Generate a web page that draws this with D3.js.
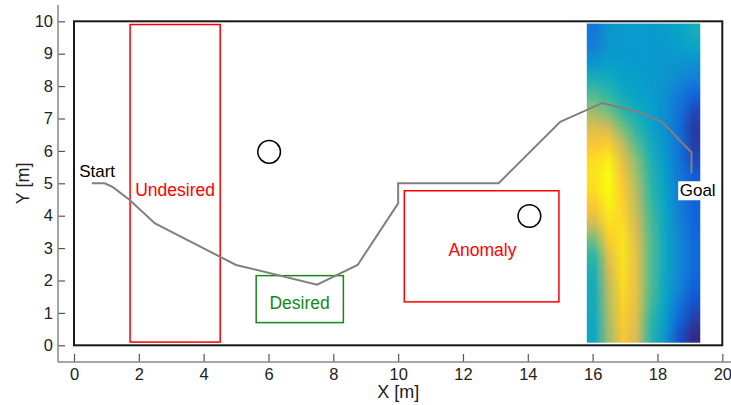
<!DOCTYPE html>
<html>
<head>
<meta charset="utf-8">
<script src="https://cdn.jsdelivr.net/npm/d3@7"></script>
<style>
  body { margin: 0; background: #fff; }
  svg { display: block; font-family: "Liberation Sans", Arial, Helvetica, sans-serif; }
</style>
</head>
<body>
<div id="chart"></div>
<script>
// ---- data (metres) ----
const xTicks = [0, 2, 4, 6, 8, 10, 12, 14, 16, 18, 20]
const yTicks = [0, 1, 2, 3, 4, 5, 6, 7, 8, 9, 10]

// robot trajectory
const pathX = [0.55, 0.95, 1.2, 1.7, 2.5, 5.0, 7.5, 8.75, 10.0, 10.0, 13.1, 15.0, 16.3, 17.5, 18.15, 19.05, 19.05]
const pathY = [5.0, 5.0, 4.88, 4.5, 3.76, 2.48, 1.87, 2.48, 4.38, 5.0, 5.0, 6.9, 7.48, 7.18, 6.88, 5.95, 5.3]

// zones
const zoneNames = ['Undesired', 'Desired', 'Anomaly']
const zoneX0 = [1.73, 5.62, 10.19]
const zoneX1 = [4.51, 8.31, 14.96]
const zoneY0 = [0.1, 0.7, 1.34]
const zoneY1 = [9.9, 2.15, 4.77]
const zoneLabelX = [3.12, 6.96, 12.6]
const zoneLabelY = [4.8, 1.3, 2.95]
const zoneColors = ['#ff0000', '#138a13', '#ff0000']

// obstacles
const obstX = [6.02, 14.05]
const obstY = [5.97, 3.99]
const obstR = 0.35

// cost map (rows from top to bottom, values 0..1 on parula)
const heatX0 = 15.82, heatX1 = 19.32, heatY0 = 0.08, heatY1 = 9.93
const heat = [
  [0.22, 0.32, 0.34, 0.34, 0.34, 0.35, 0.38, 0.43],
  [0.25, 0.33, 0.34, 0.34, 0.34, 0.34, 0.36, 0.38],
  [0.33, 0.36, 0.35, 0.34, 0.34, 0.33, 0.32, 0.30],
  [0.45, 0.42, 0.38, 0.36, 0.34, 0.32, 0.28, 0.24],
  [0.55, 0.50, 0.42, 0.37, 0.35, 0.30, 0.22, 0.15],
  [0.66, 0.60, 0.50, 0.42, 0.36, 0.30, 0.20, 0.08],
  [0.78, 0.75, 0.60, 0.48, 0.38, 0.30, 0.18, 0.04],
  [0.86, 0.88, 0.72, 0.55, 0.42, 0.32, 0.20, 0.05],
  [0.92, 0.97, 0.80, 0.62, 0.45, 0.34, 0.20, 0.08],
  [0.94, 1.00, 0.85, 0.66, 0.48, 0.35, 0.22, 0.12],
  [0.92, 1.00, 0.88, 0.70, 0.50, 0.37, 0.23, 0.14],
  [0.86, 0.97, 0.90, 0.72, 0.52, 0.38, 0.24, 0.15],
  [0.76, 0.93, 0.92, 0.75, 0.54, 0.39, 0.25, 0.16],
  [0.60, 0.88, 0.94, 0.78, 0.55, 0.40, 0.27, 0.17],
  [0.50, 0.80, 0.94, 0.80, 0.55, 0.40, 0.27, 0.18],
  [0.45, 0.75, 0.93, 0.80, 0.55, 0.40, 0.27, 0.17],
  [0.43, 0.72, 0.92, 0.80, 0.55, 0.39, 0.25, 0.14],
  [0.42, 0.70, 0.90, 0.80, 0.53, 0.37, 0.21, 0.10],
  [0.41, 0.68, 0.88, 0.78, 0.50, 0.35, 0.16, 0.05],
  [0.40, 0.66, 0.86, 0.76, 0.48, 0.32, 0.10, 0.00]
]

const parula = ['#352a87', '#0f5cdd', '#1481d6', '#06a4ca', '#2eb7a4', '#87bf77', '#d1bb59', '#fec832', '#f9fb0e']

const width = 731
const height = 405

const svg = d3.select('#chart')
  .append('svg')
  .attr('width', width)
  .attr('height', height)

const x = d3.scaleLinear().domain([0, 20]).range([74, 722.3])
const y = d3.scaleLinear().domain([0, 10]).range([345.3, 21.3])

const color = d3.scaleLinear()
  .domain(d3.range(parula.length).map(i => i / (parula.length - 1)))
  .range(parula)
  .interpolate(d3.interpolateRgb)

// heat map: one pixel per cell, scaled up (shaded) into the map extent
const nRows = heat.length
const nCols = heat[0].length
const canvas = document.createElement('canvas')
canvas.width = nCols
canvas.height = nRows
const ctx = canvas.getContext('2d')
heat.forEach((row, i) => row.forEach((v, j) => {
  ctx.fillStyle = color(v)
  ctx.fillRect(j, i, 1, 1)
}))

svg.append('image')
  .attr('href', canvas.toDataURL())
  .attr('x', x(heatX0))
  .attr('y', y(heatY1))
  .attr('width', x(heatX1) - x(heatX0))
  .attr('height', y(heatY0) - y(heatY1))
  .attr('preserveAspectRatio', 'none')
  .style('image-rendering', 'auto')

// zones
const zones = zoneNames.map((n, i) => ({ n, x0: zoneX0[i], x1: zoneX1[i], y0: zoneY0[i], y1: zoneY1[i], lx: zoneLabelX[i], ly: zoneLabelY[i], c: zoneColors[i] }))

svg.append('g')
  .selectAll('rect')
  .data(zones)
  .enter()
  .append('rect')
  .attr('x', d => x(d.x0))
  .attr('y', d => y(d.y1))
  .attr('width', d => x(d.x1) - x(d.x0))
  .attr('height', d => y(d.y0) - y(d.y1))
  .attr('fill', 'none')
  .attr('stroke', d => d.c)
  .attr('stroke-width', 1.5)

svg.append('g')
  .selectAll('text')
  .data(zones)
  .enter()
  .append('text')
  .attr('x', d => x(d.lx))
  .attr('y', d => y(d.ly))
  .attr('text-anchor', 'middle')
  .attr('dy', '0.35em')
  .attr('font-size', 17.5)
  .attr('fill', d => d.c)
  .text(d => d.n)

// trajectory
const line = d3.line().x(d => x(d[0])).y(d => y(d[1]))
svg.append('path')
  .datum(pathX.map((v, i) => [v, pathY[i]]))
  .attr('d', line)
  .attr('fill', 'none')
  .attr('stroke', '#808080')
  .attr('stroke-width', 2)

// obstacles
svg.append('g')
  .selectAll('circle')
  .data(obstX.map((v, i) => [v, obstY[i]]))
  .enter()
  .append('circle')
  .attr('cx', d => x(d[0]))
  .attr('cy', d => y(d[1]))
  .attr('r', x(obstR) - x(0))
  .attr('fill', 'none')
  .attr('stroke', '#000')
  .attr('stroke-width', 1.5)

// start / goal labels
svg.append('text')
  .attr('x', x(0.16))
  .attr('y', y(5.2))
  .attr('font-size', 17)
  .attr('fill', '#000')
  .text('Start')

const goal = svg.append('g')
const goalText = goal.append('text')
  .attr('x', x(19.24))
  .attr('y', y(4.6))
  .attr('text-anchor', 'middle')
  .attr('font-size', 17)
  .attr('fill', '#000')
  .text('Goal')
const bb = goalText.node().getBBox()
goal.insert('rect', 'text')
  .attr('x', bb.x - 1.5)
  .attr('y', bb.y)
  .attr('width', bb.width + 3)
  .attr('height', bb.height)
  .attr('fill', '#fff')

// frame
svg.append('rect')
  .attr('x', x(0))
  .attr('y', y(10))
  .attr('width', x(20) - x(0))
  .attr('height', y(0) - y(10))
  .attr('fill', 'none')
  .attr('stroke', '#1a1a1a')
  .attr('stroke-width', 2)

// offset axes
const axisY0 = 362
const axisX0 = 58

const xAxis = svg.append('g')
  .attr('transform', `translate(0,${axisY0})`)
  .call(d3.axisBottom(x).tickValues(xTicks).tickSizeInner(-8).tickSizeOuter(0).tickPadding(6))
xAxis.select('.domain').remove()
xAxis.selectAll('line').attr('stroke', '#555').attr('stroke-width', 1.2)
xAxis.selectAll('text').attr('font-size', 16.5).attr('fill', '#222').attr('font-family', null)

const yAxis = svg.append('g')
  .attr('transform', `translate(${axisX0},0)`)
  .call(d3.axisLeft(y).tickValues(yTicks).tickSizeInner(-7).tickSizeOuter(0).tickPadding(5))
yAxis.select('.domain').remove()
yAxis.selectAll('line').attr('stroke', '#555').attr('stroke-width', 1.2)
yAxis.selectAll('text').attr('font-size', 16.5).attr('fill', '#222').attr('font-family', null)

svg.append('line')
  .attr('x1', axisX0).attr('x2', width)
  .attr('y1', axisY0).attr('y2', axisY0)
  .attr('stroke', '#888').attr('stroke-width', 1.5)

svg.append('line')
  .attr('x1', axisX0).attr('x2', axisX0)
  .attr('y1', 5).attr('y2', axisY0)
  .attr('stroke', '#888').attr('stroke-width', 1.5)

// axis titles
svg.append('text')
  .attr('x', x(10))
  .attr('y', 398)
  .attr('text-anchor', 'middle')
  .attr('font-size', 18)
  .attr('fill', '#222')
  .text('X [m]')

svg.append('text')
  .attr('transform', `translate(29,${y(5)}) rotate(-90)`)
  .attr('text-anchor', 'middle')
  .attr('font-size', 18)
  .attr('fill', '#222')
  .text('Y [m]')
</script>
</body>
</html>
